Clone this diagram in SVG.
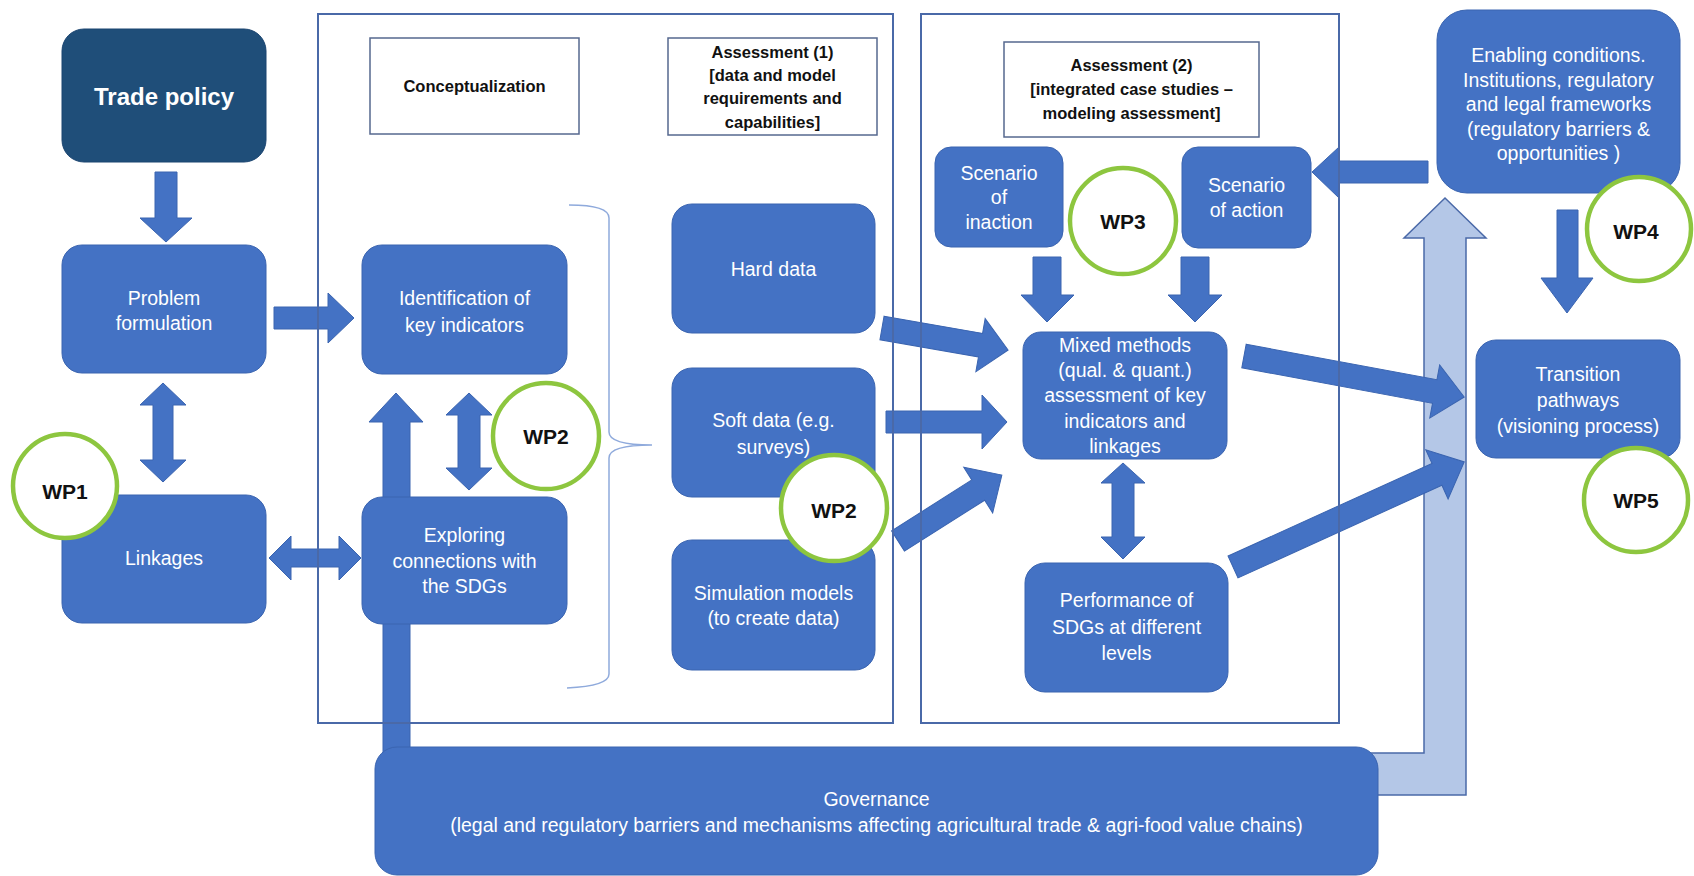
<svg xmlns="http://www.w3.org/2000/svg" width="1694" height="876" viewBox="0 0 1694 876">
  <style>
    .frame{fill:none;stroke:#4a69a8;stroke-width:2}
    .label{fill:#fff;stroke:#56688f;stroke-width:1.5}
    .box{fill:#4472c4;stroke:#3a64b0;stroke-width:1}
    .dark{fill:#1f4e79;stroke:#1a4470;stroke-width:1}
    .arrow{fill:#4472c4;stroke:#3a64b0;stroke-width:1}
    .light{fill:#b4c7e7;stroke:#4a69a8;stroke-width:1.5}
    .wp{fill:#fff;stroke:#8dc63f;stroke-width:4.5}
    .brace{fill:none;stroke:#8faadc;stroke-width:1.5}
    .t{font-family:"Liberation Sans",Arial,sans-serif;font-size:19.5px;fill:#fff;text-anchor:middle}
    .hb{font-family:"Liberation Sans",Arial,sans-serif;font-size:16.5px;font-weight:bold;fill:#111;text-anchor:middle}
    .wpt{font-family:"Liberation Sans",Arial,sans-serif;font-size:21px;font-weight:bold;fill:#111;text-anchor:middle}
    .title{font-family:"Liberation Sans",Arial,sans-serif;font-size:24px;font-weight:bold;fill:#fff;text-anchor:middle}
  </style>

  <rect x="0" y="0" width="1694" height="876" fill="#fff"/>

  <!-- connectors -->
  <g id="connectors">
    <!-- governance feedback to enabling conditions (light bent arrow) -->
    <polygon class="light" points="1360,753 1424,753 1424,238 1404,238 1445,198 1486,238 1466,238 1466,795 1360,795"/>
    <!-- trade policy -> problem formulation -->
    <polygon class="arrow" points="155,172 177,172 177,218 192,218 166,242 140,218 155,218"/>
    <!-- problem formulation <-> linkages -->
    <polygon class="arrow" points="163,383 186,405 173,405 173,460 186,460 163,482 140,460 153,460 153,405 140,405"/>
    <!-- problem formulation -> identification -->
    <polygon class="arrow" points="274,307 328,307 328,293 354,318 328,343 328,329 274,329"/>
    <!-- linkages <-> exploring -->
    <polygon class="arrow" points="269,558 291,536 291,549 339,549 339,536 361,558 339,580 339,567 291,567 291,580"/>
    <!-- identification <-> exploring -->
    <polygon class="arrow" points="469,393 492,415 480,415 480,468 492,468 469,490 446,468 458,468 458,415 446,415"/>
    <!-- governance -> identification -->
    <polygon class="arrow" points="396,393 423,422 410,422 410,760 383,760 383,422 369,422"/>
    <!-- hard data -> mixed methods -->
    <polygon class="arrow" transform="translate(882,328) rotate(9.9)" points="0,-12 100,-12 100,-27 128,0 100,27 100,12 0,12"/>
    <!-- soft data -> mixed methods -->
    <polygon class="arrow" points="886,411 982,411 982,395 1007,422 982,449 982,433 886,433"/>
    <!-- simulation models -> mixed methods -->
    <polygon class="arrow" transform="translate(898,541) rotate(-32.4)" points="0,-12 95,-12 95,-27 123,0 95,27 95,12 0,12"/>
    <!-- scenario of inaction -> mixed methods -->
    <polygon class="arrow" points="1033,257 1061,257 1061,295 1074,295 1047,322 1021,295 1033,295"/>
    <!-- scenario of action -> mixed methods -->
    <polygon class="arrow" points="1181,257 1209,257 1209,295 1222,295 1195,322 1168,295 1181,295"/>
    <!-- mixed methods <-> performance -->
    <polygon class="arrow" points="1123,463 1145,483 1134,483 1134,537 1145,537 1123,559 1101,537 1112,537 1112,483 1101,483"/>
    <!-- enabling conditions -> scenario of action -->
    <polygon class="arrow" points="1428,161 1339,161 1339,147 1312,172 1339,198 1339,183 1428,183"/>
    <!-- enabling conditions -> transition pathways -->
    <polygon class="arrow" points="1557,210 1578,210 1578,278 1593,278 1567,313 1541,278 1557,278"/>
    <!-- mixed methods -> transition pathways -->
    <polygon class="arrow" transform="translate(1244,356) rotate(10.56)" points="0,-12 194,-12 194,-27 224,0 194,27 194,12 0,12"/>
    <!-- performance -> transition pathways -->
    <polygon class="arrow" transform="translate(1233,567) rotate(-24.44)" points="0,-12 224,-12 224,-27 254,0 224,27 224,12 0,12"/>
  </g>

  <!-- stage frames -->
  <g id="frames">
    <rect class="frame" x="318" y="14" width="575" height="709"/>
    <rect class="frame" x="921" y="14" width="418" height="709"/>
  </g>

  <g id="conceptualization-label">
    <rect class="label" x="370" y="38" width="209" height="96"/>
    <text class="hb" x="474.5" y="92">Conceptualization</text>
  </g>
  <g id="assessment1-label">
    <rect class="label" x="668" y="38" width="209" height="97"/>
    <text class="hb" x="772.5" y="58">Assessment (1)</text>
    <text class="hb" x="772.5" y="81">[data and model</text>
    <text class="hb" x="772.5" y="104">requirements and</text>
    <text class="hb" x="772.5" y="128">capabilities]</text>
  </g>
  <g id="assessment2-label">
    <rect class="label" x="1004" y="42" width="255" height="95"/>
    <text class="hb" x="1131.5" y="71">Assessment (2)</text>
    <text class="hb" x="1131.5" y="95">[integrated case studies –</text>
    <text class="hb" x="1131.5" y="119">modeling assessment]</text>
  </g>

  <g id="trade-policy">
    <rect class="dark" x="62" y="29" width="204" height="133" rx="22"/>
    <text class="title" x="164" y="105">Trade policy</text>
  </g>
  <g id="problem-formulation">
    <rect class="box" x="62" y="245" width="204" height="128" rx="20"/>
    <text class="t" x="164" y="305">Problem</text>
    <text class="t" x="164" y="330">formulation</text>
  </g>
  <g id="linkages">
    <rect class="box" x="62" y="495" width="204" height="128" rx="20"/>
    <text class="t" x="164" y="565">Linkages</text>
  </g>
  <g id="identification">
    <rect class="box" x="362" y="245" width="205" height="129" rx="20"/>
    <text class="t" x="464.5" y="305">Identification of</text>
    <text class="t" x="464.5" y="332">key indicators</text>
  </g>
  <g id="exploring">
    <rect class="box" x="362" y="497" width="205" height="127" rx="20"/>
    <text class="t" x="464.5" y="542">Exploring</text>
    <text class="t" x="464.5" y="568">connections with</text>
    <text class="t" x="464.5" y="593">the SDGs</text>
  </g>
  <g id="bracket">
    <path class="brace" d="M569,205 Q609,205 609,218 L609,432 Q609,445 652,445 Q609,445 609,458 L609,674 Q609,686 567,688"/>
  </g>
  <g id="hard-data">
    <rect class="box" x="672" y="204" width="203" height="129" rx="20"/>
    <text class="t" x="773.5" y="276">Hard data</text>
  </g>
  <g id="soft-data">
    <rect class="box" x="672" y="368" width="203" height="129" rx="20"/>
    <text class="t" x="773.5" y="427">Soft data (e.g.</text>
    <text class="t" x="773.5" y="454">surveys)</text>
  </g>
  <g id="simulation-models">
    <rect class="box" x="672" y="540" width="203" height="130" rx="20"/>
    <text class="t" x="773.5" y="600">Simulation models</text>
    <text class="t" x="773.5" y="625">(to create data)</text>
  </g>
  <g id="scenario-inaction">
    <rect class="box" x="935" y="147" width="128" height="100" rx="16"/>
    <text class="t" x="999" y="180">Scenario</text>
    <text class="t" x="999" y="204">of</text>
    <text class="t" x="999" y="229">inaction</text>
  </g>
  <g id="scenario-action">
    <rect class="box" x="1182" y="147" width="129" height="101" rx="16"/>
    <text class="t" x="1246.5" y="192">Scenario</text>
    <text class="t" x="1246.5" y="217">of action</text>
  </g>
  <g id="mixed-methods">
    <rect class="box" x="1023" y="332" width="204" height="127" rx="18"/>
    <text class="t" x="1125" y="352">Mixed methods</text>
    <text class="t" x="1125" y="377">(qual. &amp; quant.)</text>
    <text class="t" x="1125" y="402">assessment of key</text>
    <text class="t" x="1125" y="428">indicators and</text>
    <text class="t" x="1125" y="453">linkages</text>
  </g>
  <g id="performance">
    <rect class="box" x="1025" y="563" width="203" height="129" rx="20"/>
    <text class="t" x="1126.5" y="607">Performance of</text>
    <text class="t" x="1126.5" y="634">SDGs at different</text>
    <text class="t" x="1126.5" y="660">levels</text>
  </g>
  <g id="enabling-conditions">
    <rect class="box" x="1437" y="10" width="243" height="183" rx="30"/>
    <text class="t" x="1558.5" y="62">Enabling conditions.</text>
    <text class="t" x="1558.5" y="87">Institutions, regulatory</text>
    <text class="t" x="1558.5" y="111">and legal frameworks</text>
    <text class="t" x="1558.5" y="136">(regulatory barriers &amp;</text>
    <text class="t" x="1558.5" y="160">opportunities )</text>
  </g>
  <g id="transition-pathways">
    <rect class="box" x="1476" y="340" width="204" height="118" rx="20"/>
    <text class="t" x="1578" y="381">Transition</text>
    <text class="t" x="1578" y="407">pathways</text>
    <text class="t" x="1578" y="433">(visioning process)</text>
  </g>
  <g id="governance">
    <rect class="box" x="375" y="747" width="1003" height="128" rx="22"/>
    <text class="t" x="876.5" y="806">Governance</text>
    <text class="t" x="876.5" y="832">(legal and regulatory barriers and mechanisms affecting agricultural trade &amp; agri-food value chains)</text>
  </g>

  <!-- work package badges -->
  <g id="wp1">
    <circle class="wp" cx="65" cy="486" r="52"/>
    <text class="wpt" x="65" y="499">WP1</text>
  </g>
  <g id="wp2-conceptualization">
    <circle class="wp" cx="546" cy="436" r="53"/>
    <text class="wpt" x="546" y="444">WP2</text>
  </g>
  <g id="wp2-assessment">
    <circle class="wp" cx="834" cy="508" r="53"/>
    <text class="wpt" x="834" y="518">WP2</text>
  </g>
  <g id="wp3">
    <circle class="wp" cx="1123" cy="221" r="53"/>
    <text class="wpt" x="1123" y="229">WP3</text>
  </g>
  <g id="wp4">
    <circle class="wp" cx="1639" cy="229" r="52"/>
    <text class="wpt" x="1636" y="239">WP4</text>
  </g>
  <g id="wp5">
    <circle class="wp" cx="1636" cy="500" r="52"/>
    <text class="wpt" x="1636" y="508">WP5</text>
  </g>
</svg>
